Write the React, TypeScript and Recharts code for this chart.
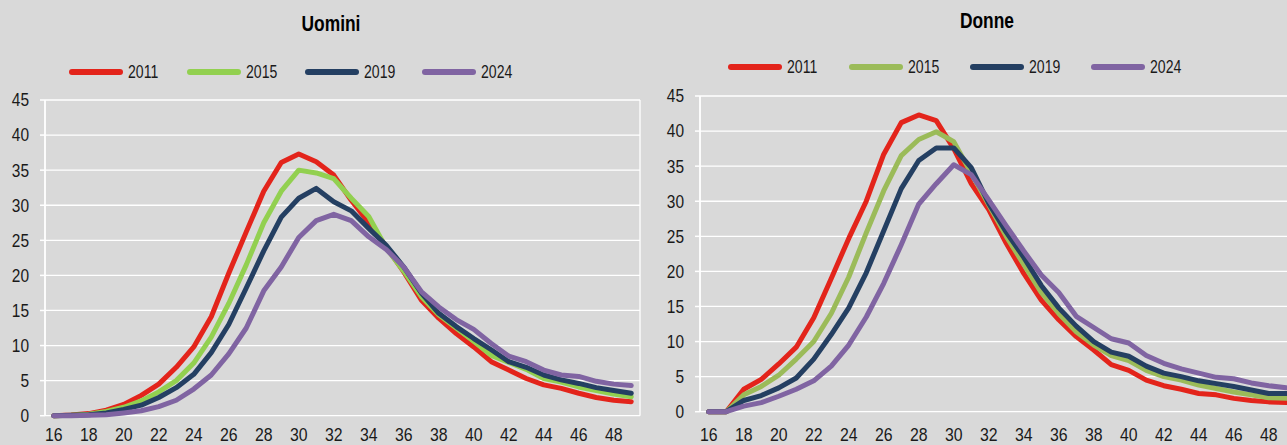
import { LineChart, Line, XAxis, YAxis, CartesianGrid } from "recharts";

const ages = [
  16, 17, 18, 19, 20, 21, 22, 23, 24, 25, 26, 27, 28, 29, 30, 31, 32,
  33, 34, 35, 36, 37, 38, 39, 40, 41, 42, 43, 44, 45, 46, 47, 48, 49,
];
const years = ["2011", "2015", "2019", "2024"];
const ageTicks = [16, 18, 20, 22, 24, 26, 28, 30, 32, 34, 36, 38, 40, 42, 44, 46, 48];
const valueTicks = [0, 5, 10, 15, 20, 25, 30, 35, 40, 45];

// Uomini
const men2011 = [0, 0.1, 0.3, 0.8, 1.6, 2.9, 4.5, 6.9, 9.8, 14.1, 20.3, 26.2, 32.0, 36.1, 37.3, 36.2, 34.3, 30.7, 27.5, 24.1, 20.5, 16.5, 13.9, 11.7, 9.8, 7.7, 6.5, 5.3, 4.4, 3.9, 3.2, 2.6, 2.2, 2.0];
const men2015 = [0, 0.05, 0.2, 0.6, 1.2, 2.1, 3.4, 5.0, 7.5, 11.2, 16.0, 21.5, 27.5, 32.0, 35.0, 34.6, 33.8, 31.0, 28.4, 23.9, 20.6, 17.0, 14.4, 12.5, 10.6, 8.6, 7.6, 6.6, 5.3, 4.8, 4.1, 3.6, 3.1, 2.7];
const men2019 = [0, 0.05, 0.15, 0.4, 0.9, 1.5, 2.6, 4.0, 5.9, 9.0, 13.0, 18.2, 23.5, 28.3, 31.0, 32.4, 30.5, 29.2, 26.7, 24.3, 21.2, 17.5, 14.6, 12.7, 11.0, 9.4, 7.7, 6.9, 5.8, 5.1, 4.6, 4.0, 3.6, 3.2];
const men2024 = [0, 0, 0.05, 0.15, 0.4, 0.7, 1.3, 2.2, 3.8, 5.8, 8.8, 12.5, 17.8, 21.2, 25.4, 27.8, 28.7, 27.8, 25.5, 23.7, 21.2, 17.7, 15.5, 13.7, 12.3, 10.3, 8.5, 7.7, 6.5, 5.8, 5.6, 4.9, 4.5, 4.3];

// Donne
const women2011 = [0, 0, 3.2, 4.6, 6.8, 9.2, 13.4, 19.0, 24.7, 30.0, 36.7, 41.2, 42.3, 41.5, 37.5, 32.5, 28.8, 24.0, 19.7, 15.9, 13.1, 10.7, 8.8, 6.7, 5.9, 4.5, 3.7, 3.2, 2.6, 2.4, 1.9, 1.6, 1.4, 1.3];
const women2015 = [0, 0, 2.4, 3.6, 5.2, 7.5, 10.0, 14.0, 19.2, 25.5, 31.5, 36.5, 38.8, 39.9, 38.5, 34.0, 29.5, 25.0, 21.0, 17.0, 14.0, 11.4, 9.5, 8.0, 7.3, 5.9, 5.0, 4.5, 3.8, 3.3, 2.8, 2.4, 2.0, 1.9];
const women2019 = [0, 0, 1.6, 2.3, 3.4, 4.8, 7.5, 11.0, 14.8, 19.8, 25.8, 31.8, 35.8, 37.6, 37.6, 34.8, 29.7, 25.6, 22.0, 18.0, 14.8, 12.2, 10.0, 8.5, 7.9, 6.5, 5.5, 5.0, 4.4, 4.0, 3.6, 3.1, 2.6, 2.6];
const women2024 = [0, 0, 0.8, 1.3, 2.2, 3.2, 4.4, 6.5, 9.5, 13.5, 18.3, 23.8, 29.6, 32.5, 35.2, 33.8, 30.2, 26.5, 22.9, 19.5, 17.0, 13.6, 12.0, 10.4, 9.8, 8.0, 6.9, 6.1, 5.5, 4.9, 4.7, 4.1, 3.7, 3.4];

const FONT = '"Liberation Sans", Arial, sans-serif';
const BG = "#d9d9d9";
const INK = "#1a1a1a";

// category boundaries for gridlines / tick marks
const gridTicks = [...ages.map((a) => a - 0.5), ages[ages.length - 1] + 0.5];

const buildRows = (series: number[][]) =>
  ages.map((age, i) => {
    const row: Record<string, number> = { age };
    years.forEach((y, k) => (row[y] = series[k][i]));
    return row;
  });

// the source font is condensed, so squeeze Liberation Sans horizontally
const YTick = ({ x, y, payload }: any) => (
  <text
    transform={`translate(${x},${y}) scale(0.86,1)`}
    textAnchor="end"
    dy="0.355em"
    fill={INK}
    fontSize={18}
    fontFamily={FONT}
  >
    {payload.value}
  </text>
);

const XTick = ({ x, y, payload }: any) => (
  <text
    transform={`translate(${x},${y}) scale(0.88,1)`}
    textAnchor="middle"
    dy="0.71em"
    fill={INK}
    fontSize={18}
    fontFamily={FONT}
  >
    {payload.value}
  </text>
);

interface PanelProps {
  title: string;
  series: number[][];
  colors: string[];
  left: number;
  plotTop: number;
  plotBottom: number;
  titleX: number;
  titleY: number;
  legendX: number;
  legendY: number;
  legendStep: number;
  labelGap: number;
}

function Panel(p: PanelProps) {
  const rows = buildRows(p.series);
  const height = 445;
  return (
    <>
      <div
        style={{
          position: "absolute",
          left: p.titleX - 60,
          width: 120,
          top: p.titleY - 13,
          textAlign: "center",
          fontWeight: "bold",
          fontSize: 22,
          lineHeight: "26px",
          color: "#000",
          transform: "scaleX(0.79)",
        }}
      >
        {p.title}
      </div>
      {years.map((y, k) => (
        <div
          key={y}
          style={{
            position: "absolute",
            left: p.legendX + k * p.legendStep,
            top: p.legendY - 12,
            height: 24,
            display: "flex",
            alignItems: "center",
            fontSize: 19,
            color: INK,
            whiteSpace: "nowrap",
          }}
        >
          <span
            style={{
              display: "inline-block",
              width: 54,
              height: 5.5,
              borderRadius: 3,
              background: p.colors[k],
              marginRight: 5,
            }}
          />
          <span
            style={{
              display: "inline-block",
              transform: "scaleX(0.74)",
              transformOrigin: "left center",
            }}
          >
            {y}
          </span>
        </div>
      ))}
      <div style={{ position: "absolute", left: p.left, top: 0 }}>
        <LineChart
          width={650}
          height={height}
          data={rows}
          margin={{ top: p.plotTop, right: 10, bottom: 0, left: 5 }}
        >
          <CartesianGrid xAxisId="g" stroke="#ffffff" strokeWidth={1.3} />
          <XAxis
            xAxisId="g"
            dataKey="age"
            type="number"
            domain={[gridTicks[0], gridTicks[gridTicks.length - 1]]}
            ticks={gridTicks}
            tick={false}
            height={0}
            tickSize={5}
            axisLine={{ stroke: "#ffffff", strokeWidth: 1.5 }}
            tickLine={{ stroke: "#ffffff", strokeWidth: 1.5 }}
          />
          <XAxis
            dataKey="age"
            type="number"
            domain={[gridTicks[0], gridTicks[gridTicks.length - 1]]}
            ticks={ageTicks}
            height={height - p.plotBottom}
            tickSize={0}
            tickLine={false}
            axisLine={false}
            tickMargin={p.labelGap}
            tick={<XTick />}
          />
          <YAxis
            domain={[0, 45]}
            ticks={valueTicks}
            width={40}
            tickSize={5}
            tickMargin={11}
            axisLine={{ stroke: "#ffffff", strokeWidth: 1.5 }}
            tickLine={{ stroke: "#ffffff", strokeWidth: 1.5 }}
            tick={<YTick />}
          />
          {years.map((y, k) => (
            <Line
              key={y}
              dataKey={y}
              stroke={p.colors[k]}
              strokeWidth={5}
              strokeLinecap="round"
              strokeLinejoin="round"
              dot={false}
              activeDot={false}
              isAnimationActive={false}
            />
          ))}
        </LineChart>
      </div>
    </>
  );
}

export default function App() {
  return (
    <div
      style={{
        position: "absolute",
        left: 0,
        top: 0,
        width: 1287,
        height: 445,
        overflow: "hidden",
        background: BG,
        fontFamily: FONT,
      }}
    >
      <Panel
        title="Uomini"
        series={[men2011, men2015, men2019, men2024]}
        colors={["#e3241b", "#92d050", "#243f62", "#8064a2"]}
        left={0}
        plotTop={100}
        plotBottom={415.7}
        titleX={331}
        titleY={24}
        legendX={69}
        legendY={72}
        legendStep={117.8}
        labelGap={12.5}
      />
      <Panel
        title="Donne"
        series={[women2011, women2015, women2019, women2024]}
        colors={["#e3241b", "#9bbb59", "#243f62", "#8064a2"]}
        left={655}
        plotTop={96}
        plotBottom={411.7}
        titleX={987}
        titleY={20.5}
        legendX={728}
        legendY={67}
        legendStep={121}
        labelGap={16.5}
      />
    </div>
  );
}
